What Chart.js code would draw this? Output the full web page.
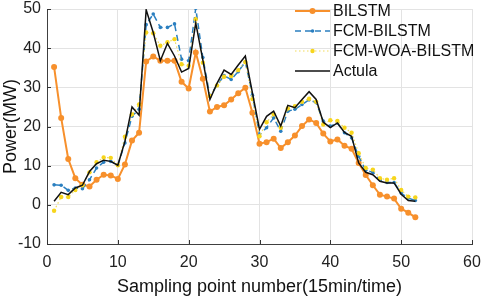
<!DOCTYPE html>
<html>
<head>
<meta charset="utf-8">
<script src="https://cdn.jsdelivr.net/npm/chart.js@4.4.1/dist/chart.umd.min.js"></script>
<style>
  html, body { margin: 0; padding: 0; background: #fff; }
  #wrap { width: 484px; height: 300px; }
</style>
</head>
<body>
<div id="wrap"><canvas id="powerChart" width="484" height="300"></canvas></div>
<script>
// sampling points (15 min each)
const samples = [1, 2, 3, 4, 5, 6, 7, 8, 9, 10, 11, 12, 13, 14, 15, 16, 17, 18, 19, 20,
  21, 22, 23, 24, 25, 26, 27, 28, 29, 30, 31, 32, 33, 34, 35, 36, 37, 38, 39, 40,
  41, 42, 43, 44, 45, 46, 47, 48, 49, 50, 51, 52];

const bilstm = [35.2, 22.2, 11.7, 6.8, 5.1, 4.7, 6.4, 7.7, 7.5, 6.6,
  10.3, 16.4, 18.4, 36.6, 37.9, 36.8, 36.8, 36.8, 31.4, 29.7,
  38.9, 32.2, 23.8, 25.0, 25.4, 26.9, 28.5, 29.9, 23.5, 15.6,
  16.0, 16.9, 14.5, 16.0, 17.7, 20.1, 21.8, 20.9, 18.2, 16.2,
  16.7, 15.1, 14.3, 10.7, 7.6, 5.0, 2.6, 2.1, 1.6, -1.0,
  -2.0, -3.2];

const fcmBilstm = [5.1, 5.0, 3.7, 4.3, 4.1, 6.4, 9.4, 10.9, 11.1, 10.1,
  15.8, 22.6, 24.4, 46.0, 48.7, 45.3, 45.3, 46.2, 37.2, 36.8,
  50.2, 37.6, 27.8, 30.5, 33.0, 32.0, 34.0, 36.5, 28.0, 17.9,
  19.7, 22.2, 18.8, 23.9, 24.4, 25.6, 26.8, 26.1, 21.4, 20.1,
  20.9, 18.4, 17.1, 12.4, 8.8, 8.3, 6.4, 5.7, 5.7, 3.0,
  1.7, 1.1];

const fcmWoaBilstm = [-1.5, 2.0, 2.0, 3.8, 5.0, 8.3, 10.9, 12.1, 12.0, 10.1,
  17.4, 23.1, 25.6, 44.0, 43.8, 40.6, 41.5, 42.3, 35.9, 35.5,
  47.4, 36.3, 27.8, 30.5, 32.7, 32.9, 34.4, 36.5, 27.0, 17.5,
  21.1, 23.1, 19.7, 24.6, 25.2, 26.3, 27.1, 26.3, 20.5, 21.6,
  21.4, 19.7, 18.4, 13.2, 9.4, 9.0, 6.8, 6.4, 6.8, 3.8,
  2.1, 1.9];

const actual = [0.9, 3.2, 2.6, 4.3, 5.0, 8.5, 10.5, 11.4, 11.1, 10.1,
  16.2, 25.0, 22.9, 49.8, 44.0, 36.8, 41.2, 38.0, 33.9, 34.8,
  46.4, 37.0, 26.9, 31.0, 34.4, 33.3, 35.7, 38.0, 28.6, 19.3,
  22.6, 23.9, 20.1, 25.4, 24.8, 26.9, 28.9, 26.9, 21.1, 19.7,
  20.9, 18.5, 17.5, 10.7, 8.3, 7.7, 6.0, 5.6, 5.6, 2.7,
  1.1, 0.9];

const xTicks = [0, 10, 20, 30, 40, 50, 60];
const yTicks = [-10, 0, 10, 20, 30, 40, 50];

function pts(vals) {
  return samples.map((s, i) => ({ x: s, y: vals[i] }));
}

const FONT = "'Liberation Sans', Arial, sans-serif";

// small inward tick marks + legend drawn inside the axes
const extras = {
  id: "extras",
  afterDraw(chart) {
    const ctx = chart.ctx;
    const a = chart.chartArea;
    const xs = chart.scales.x, ys = chart.scales.y;
    ctx.save();
    ctx.strokeStyle = "#333";
    ctx.lineWidth = 1;
    ctx.beginPath();
    xTicks.forEach(v => {
      const px = Math.round(xs.getPixelForValue(v)) + 0.5;
      ctx.moveTo(px, a.bottom);
      ctx.lineTo(px, a.bottom - 4);
    });
    yTicks.forEach(v => {
      const py = Math.round(ys.getPixelForValue(v)) + 0.5;
      ctx.moveTo(a.left, py);
      ctx.lineTo(a.left + 4, py);
    });
    ctx.stroke();

    // legend
    ctx.font = "16px " + FONT;
    ctx.textBaseline = "middle";
    chart.data.datasets.forEach((ds, i) => {
      const y = 11 + i * 20;
      ctx.strokeStyle = ds.borderColor;
      ctx.lineWidth = ds.borderWidth;
      ctx.setLineDash(ds.borderDash || []);
      ctx.beginPath();
      ctx.moveTo(295, y);
      ctx.lineTo(330, y);
      ctx.stroke();
      ctx.setLineDash([]);
      if (ds.pointRadius > 0) {
        ctx.fillStyle = ds.pointBackgroundColor;
        ctx.beginPath();
        ctx.arc(312.5, y, ds.pointRadius, 0, Math.PI * 2);
        ctx.fill();
      }
      ctx.fillStyle = "#111";
      ctx.fillText(ds.label, 333, y + 1);
    });
    ctx.restore();
  }
};

new Chart(document.getElementById("powerChart"), {
  type: "line",
  data: {
    datasets: [{
      label: "BILSTM",
      data: pts(bilstm),
      borderColor: "#f7902c",
      backgroundColor: "#f7902c",
      pointBackgroundColor: "#f7902c",
      pointBorderWidth: 0,
      borderWidth: 2,
      pointRadius: 3,
      order: 3
    }, {
      label: "FCM-BILSTM",
      data: pts(fcmBilstm),
      borderColor: "#2a7fc0",
      backgroundColor: "#2a7fc0",
      pointBackgroundColor: "#2a7fc0",
      pointBorderWidth: 0,
      borderWidth: 1.5,
      borderDash: [6, 4],
      pointRadius: 1.8,
      order: 2
    }, {
      label: "FCM-WOA-BILSTM",
      data: pts(fcmWoaBilstm),
      borderColor: "#f2dc5a",
      backgroundColor: "#f7d51c",
      pointBackgroundColor: "#f7d51c",
      pointBorderWidth: 0,
      borderWidth: 1.2,
      borderDash: [1.5, 2.5],
      pointRadius: 2.2,
      order: 1
    }, {
      label: "Actula",
      data: pts(actual),
      borderColor: "#111111",
      backgroundColor: "#111111",
      borderWidth: 1.5,
      pointRadius: 0,
      order: 0
    }]
  },
  options: {
    responsive: false,
    animation: false,
    layout: { padding: { top: 9, right: 12, left: 0, bottom: 0 } },
    plugins: {
      legend: { display: false },
      tooltip: { enabled: false }
    },
    scales: {
      x: {
        type: "linear",
        min: 0,
        max: 60,
        afterBuildTicks: (s) => { s.ticks = xTicks.map(v => ({ value: v })); },
        afterFit: (s) => { s.height = 56; s.paddingLeft = 0; s.paddingRight = 0; },
        ticks: { font: { size: 16, family: FONT }, color: "#222", padding: 9, maxRotation: 0 },
        grid: { color: "#e3e3e3", drawTicks: false },
        border: { color: "#404040", width: 1 },
        title: {
          display: true,
          text: "Sampling point number(15min/time)",
          font: { size: 18, family: FONT },
          color: "#111",
          padding: { top: 0, bottom: 2 }
        }
      },
      y: {
        min: -10,
        max: 50,
        afterBuildTicks: (s) => { s.ticks = yTicks.map(v => ({ value: v })); },
        afterFit: (s) => { s.width = 47; s.paddingTop = 0; s.paddingBottom = 0; },
        ticks: { font: { size: 16, family: FONT }, color: "#222", padding: 6 },
        grid: { color: "#e3e3e3", drawTicks: false },
        border: { color: "#404040", width: 1 },
        title: {
          display: true,
          text: "Power(MW)",
          font: { size: 18, family: FONT },
          color: "#111",
          padding: { top: 0, bottom: 0 }
        }
      }
    }
  },
  plugins: [extras]
});
</script>
</body>
</html>
